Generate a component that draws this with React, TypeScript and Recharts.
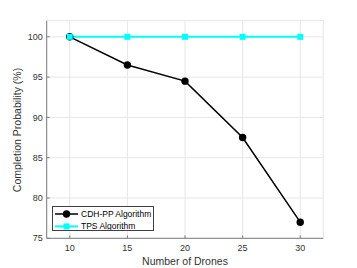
import React from 'react';
import { LineChart, Line, XAxis, YAxis, CartesianGrid, Legend, Label } from 'recharts';

const droneCounts = [10, 15, 20, 25, 30];
const cdhppProb = [100, 96.5, 94.5, 87.5, 77];
const tpsProb = [100, 100, 100, 100, 100];
const xTicks = [10, 15, 20, 25, 30];
const yTicks = [75, 80, 85, 90, 95, 100];
const seriesNames = ['CDH-PP Algorithm', 'TPS Algorithm'];
const xTitle = 'Number of Drones';
const yTitle = 'Completion Probability (%)';

const data = droneCounts.map((d, i) => ({ drones: d, cdhpp: cdhppProb[i], tps: tpsProb[i] }));

const FONT = '"Liberation Sans", Arial, Helvetica, sans-serif';
const AXIS = '#7f7f7f';
const TXT = '#333333';
const CYAN = '#00ffff';

const YTick = (p: any) => (
  <g>
    <line x1={p.x} x2={p.x + 3} y1={p.y} y2={p.y} stroke={AXIS} />
    <text x={p.x - 4} y={p.y} dy="0.35em" textAnchor="end" fontSize={9} fill={TXT} fontFamily={FONT}>
      {p.payload.value}
    </text>
  </g>
);
const XTick = (p: any) => (
  <g>
    <line x1={p.x} x2={p.x} y1={p.y} y2={p.y - 3} stroke={AXIS} />
    <text x={p.x} y={p.y + 10} dy="0.35em" textAnchor="middle" fontSize={9} fill={TXT} fontFamily={FONT}>
      {p.payload.value}
    </text>
  </g>
);
const TopTick = (p: any) => <line x1={p.x} x2={p.x} y1={p.y} y2={p.y + 3} stroke={AXIS} />;
const RightTick = (p: any) => <line x1={p.x} x2={p.x - 3} y1={p.y} y2={p.y} stroke={AXIS} />;

const SquareDot = (p: any) => (
  <rect key={`sq-${p.index}`} x={p.cx - 3} y={p.cy - 3} width={6} height={6} fill={CYAN} />
);
const CircleDot = (p: any) => (
  <circle key={`c-${p.index}`} cx={p.cx} cy={p.cy} r={3.7} fill="#000" />
);

const LegendBox = (props: any) => {
  const items = props.payload || [];
  return (
    <div style={{ width: 102, height: 25, border: '1px solid #404040', background: '#fff', boxSizing: 'border-box' }}>
      <svg width={100} height={23} style={{ display: 'block' }}>
        {items.map((it: any, i: number) => {
          const y = 7 + i * 12.4;
          const isTps = it.dataKey === 'tps';
          return (
            <g key={i}>
              <line x1={2} x2={25} y1={y} y2={y} stroke={isTps ? CYAN : '#000'} strokeWidth={isTps ? 2 : 1.5} />
              {isTps ? (
                <rect x={10.5} y={y - 3} width={6} height={6} fill={CYAN} />
              ) : (
                <circle cx={13.5} cy={y} r={3.7} fill="#000" />
              )}
              <text x={28} y={y} dy="0.35em" fontSize={8.5} fill="#000" fontFamily={FONT}>
                {it.value}
              </text>
            </g>
          );
        })}
      </svg>
    </div>
  );
};

export default function App() {
  return (
    <div style={{ position: 'absolute', left: 0, top: 0, background: '#fff' }}>
      <LineChart width={357} height={268} data={data} margin={{ top: 20.7, right: 33.7, left: 16.7, bottom: 0 }}>
        <CartesianGrid stroke="#e6e6e6" />
        <XAxis
          dataKey="drones"
          type="number"
          domain={[8, 32]}
          ticks={xTicks}
          allowDataOverflow
          height={29.7}
          tickSize={0}
          tickMargin={0}
          tickLine={false}
          axisLine={{ stroke: AXIS }}
          tick={XTick}
          interval={0}
        >
          <Label
            content={() => (
              <text x={185} y={261.7} dy="0.35em" textAnchor="middle" fontSize={10.5} fill={TXT} fontFamily={FONT}>
                {xTitle}
              </text>
            )}
          />
        </XAxis>
        <XAxis
          xAxisId="top"
          orientation="top"
          dataKey="drones"
          type="number"
          domain={[8, 32]}
          ticks={xTicks}
          allowDataOverflow
          height={0}
          tickSize={0}
          tickMargin={0}
          tickLine={false}
          axisLine={{ stroke: AXIS }}
          tick={TopTick}
          interval={0}
        />
        <YAxis
          type="number"
          domain={[75, 102]}
          ticks={yTicks}
          allowDataOverflow
          width={30}
          tickSize={0}
          tickMargin={0}
          tickLine={false}
          axisLine={{ stroke: AXIS }}
          tick={YTick}
          interval={0}
        >
          <Label
            content={() => (
              <text
                x={17}
                y={130}
                dy="0.35em"
                textAnchor="middle"
                fontSize={10.5}
                fill={TXT}
                fontFamily={FONT}
                transform="rotate(-90 17 130)"
              >
                {yTitle}
              </text>
            )}
          />
        </YAxis>
        <YAxis
          yAxisId="right"
          orientation="right"
          type="number"
          domain={[75, 102]}
          ticks={yTicks}
          allowDataOverflow
          width={0}
          tickSize={0}
          tickMargin={0}
          tickLine={false}
          axisLine={{ stroke: AXIS }}
          tick={RightTick}
          interval={0}
        />
        <Legend
          layout="vertical"
          align="center"
          verticalAlign="middle"
          wrapperStyle={{ position: 'absolute', left: 52, top: 206, width: 102, height: 25 }}
          content={LegendBox}
        />
        <Line
          dataKey="cdhpp"
          name={seriesNames[0]}
          stroke="#000"
          strokeWidth={1.5}
          dot={CircleDot}
          activeDot={false}
          isAnimationActive={false}
        />
        <Line
          dataKey="tps"
          name={seriesNames[1]}
          stroke={CYAN}
          strokeWidth={2}
          dot={SquareDot}
          activeDot={false}
          isAnimationActive={false}
        />
      </LineChart>
    </div>
  );
}
